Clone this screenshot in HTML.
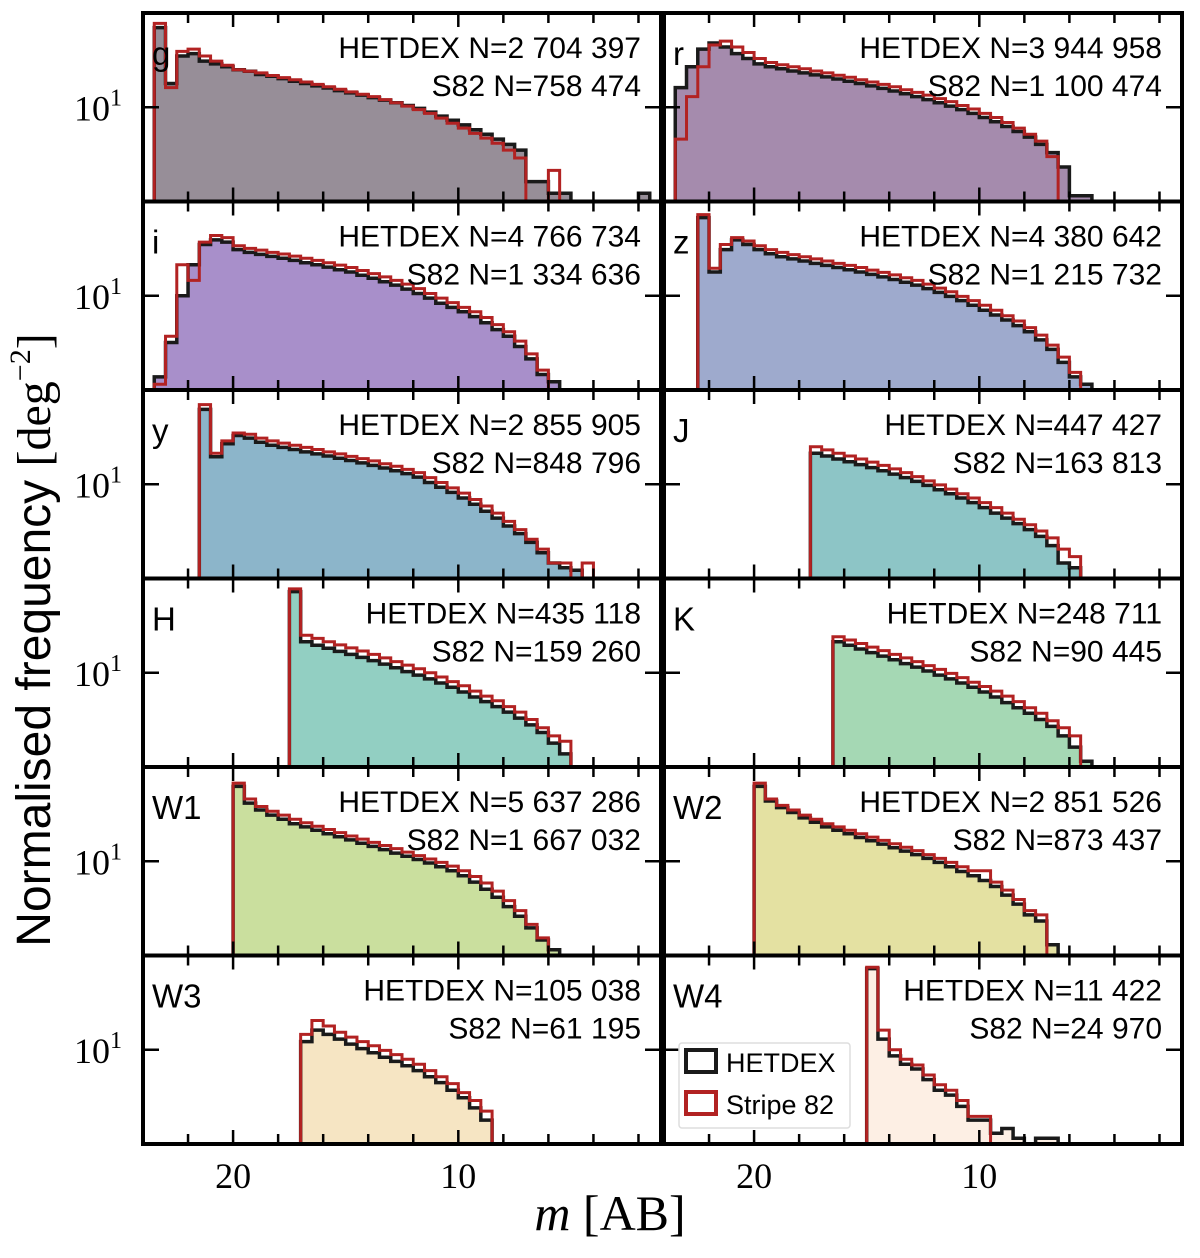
<!DOCTYPE html>
<html><head><meta charset="utf-8"><style>
body{margin:0;background:#fff}
svg text{font-family:"Liberation Sans",sans-serif}
.serif{font-family:"Liberation Serif",serif}
</style></head><body>
<svg id="fig" width="1200" height="1253" viewBox="0 0 1200 1253" xmlns="http://www.w3.org/2000/svg"></svg>
<script>
const bands = ["g","r","i","z","y","J","H","K","W1","W2","W3","W4"];
const hetdexN = ["2 704 397","3 944 958","4 766 734","4 380 642","2 855 905","447 427","435 118","248 711","5 637 286","2 851 526","105 038","11 422"];
const s82N = ["758 474","1 100 474","1 334 636","1 215 732","848 796","163 813","159 260","90 445","1 667 032","873 437","61 195","24 970"];
const startMag = [23.5,23.5,23.5,22.5,21.5,17.5,17.5,16.5,20,20,17,15];
const binWidth = 0.5;
const hetdexVals = [
[39,15,24,25,22,21,20,19,18.5,17.5,17,16.3,15.6,15,14.4,13.9,13.3,12.8,12.3,11.8,11.3,10.8,10.3,9.8,9.2,8.6,8,7.4,6.8,6.3,5.8,5.3,4.8,2.8,2.8,2.3,2.3,0,0,0,0,0,0,2.3],
[14,20,27,30,28,25,23,21,20,19.3,18.6,18,17.4,16.8,16.2,15.6,15,14.4,13.8,13.2,12.6,12,11.4,10.8,10.2,9.6,9,8.4,7.8,7.2,6.6,6,5.3,4.6,3.6,2.2,2.2],
[2.5,4.5,10,17,24,26,25,22,21,20.3,19.6,19,18.3,17.6,17,16.3,15.6,15,14.2,13.5,12.7,12,11.2,10.4,9.6,8.8,8.2,7.6,7,6.3,5.6,5,4.2,3.4,2.6,2.3],
[38,15,22,26,24,22,20.5,19.5,18.8,18.1,17.4,16.8,16.2,15.6,15,14.4,13.8,13.2,12.6,12,11.3,10.6,9.9,9.2,8.5,7.8,7.2,6.6,6,5.4,4.7,4,3.2,2.5,2.2],
[36,16,20,23,22,20.5,19.5,18.8,18.1,17.4,16.8,16.2,15.6,15,14.4,13.8,13.2,12.6,12,11.3,10.3,9.5,8.7,7.9,7.1,6.3,5.6,4.9,4.3,3.7,3.1,2.6,2.4,2.3],
[17,16.2,15.4,14.7,14,13.3,12.6,11.9,11.2,10.5,9.8,9.1,8.5,7.9,7.3,6.7,6.1,5.6,5.1,4.6,4.1,3.5,2.6,2.4],
[40,17,16,15.2,14.4,13.7,13,12.3,11.6,10.9,10.2,9.6,9,8.4,7.8,7.2,6.6,6.1,5.6,5.1,4.6,4.1,3.6,3,2.5],
[17,16,15,14.1,13.3,12.5,11.7,11,10.3,9.6,9,8.4,7.8,7.2,6.6,6,5.5,5,4.5,4,3.4,2.8,2.2],
[36,27,24,22,20.5,19,18,17,16,15.2,14.4,13.6,12.9,12.2,11.5,10.9,10.3,9.7,9.1,8.5,7.8,7,6.2,5.4,4.6,3.9,3.2,2.6,2.2],
[36,28,25,23,21,19.5,18,17,16,15,14.2,13.4,12.6,11.9,11.2,10.5,9.8,9.1,8.4,7.8,7.2,6.5,5.6,4.8,4,3.6,2.4],
[11.5,14,13,12,11,10.2,9.5,8.8,8.2,7.6,7,6.3,5.7,5,4.4,3.7,3],
[40,12,9,7.8,7.2,6,5,4.6,3.8,3,3,2.4,2.6,2.2,2,2.2,2.2]
];
const s82Vals = [
[42,14,26,27,24,22,20.5,19,18.5,18,17.2,16.6,16,15.4,14.8,14.2,13.6,13,12.5,12,11.4,10.8,10.2,9.6,9,8.3,7.6,7,6.4,5.9,5.4,4.8,4.2,0,0,3.4],
[5.8,12,20,29,31,28,25.5,23,21.5,20.7,20,19.3,18.6,18,17.3,16.7,16,15.4,14.8,14.2,13.5,12.9,12.3,11.6,11,10.3,9.7,9,8.4,7.7,7,6.3,5.6,4.3],
[2.2,5,17,13,25,28,27,23.5,22.5,21.8,21,20.4,19.7,19,18.3,17.6,16.9,16.2,15.4,14.6,13.8,13,12.2,11.3,10.4,9.6,8.9,8.2,7.6,6.9,6.1,5.4,4.6,3.7,2.8],
[40,16,24,27,25.5,23.5,22,21,20.2,19.5,18.8,18.1,17.4,16.8,16.2,15.5,14.9,14.3,13.6,13,12.2,11.4,10.7,9.9,9.2,8.5,7.8,7.1,6.5,5.8,5.1,4.3,3.5,2.7],
[39,17,21,24,23.5,22,21,20.2,19.5,18.8,18.1,17.4,16.8,16.1,15.5,14.9,14.2,13.6,12.9,12.2,11.2,10.3,9.4,8.6,7.7,6.9,6.1,5.3,4.6,3.9,3.3,2.6,2.6,0,2.6],
[19,18,17,16.2,15.4,14.6,13.8,13,12.2,11.4,10.6,9.9,9.2,8.5,7.9,7.3,6.7,6.1,5.5,5,4.5,4,3.3,2.9],
[42,19,18,17,16.1,15.3,14.5,13.7,12.9,12.1,11.4,10.7,10,9.3,8.6,8,7.3,6.7,6.2,5.6,5.1,4.5,3.9,3.4,3.1],
[18.5,17.5,16.5,15.5,14.6,13.7,12.9,12.1,11.3,10.6,9.9,9.2,8.5,7.9,7.3,6.7,6.1,5.5,5,4.4,3.9,3.4],
[38,29,25.5,23.5,22,20.5,19.3,18.2,17.2,16.3,15.4,14.6,13.8,13.1,12.4,11.7,11,10.4,9.8,9.2,8.5,7.7,6.9,6,5.1,4.3,3.4,2.7],
[38,29,26,24,22,20.5,19,18,17,16,15.1,14.3,13.5,12.7,12,11.2,10.5,9.8,9.1,8.5,8.5,7,6.1,5.2,4.3,4],
[13,16.5,15,13.5,12.4,11.5,10.7,9.9,9.2,8.5,7.8,7,6.3,5.6,4.8,4.2,3.5],
[41,14,10,8.5,7.7,6.5,5.5,5,4.2,3.2,3.2]
];
const fills = ["#978e98","#a58bad","#a88fca","#9eaacd","#8cb5ca","#8dc5c6","#92cfc2","#a5d8b4","#cadf9e","#e4e1a2","#f6e5c3","#fdefe4"];
const xTickLabels = [20,10];
const yTickVal = 10;

const NS="http://www.w3.org/2000/svg";
const svg=document.getElementById('fig');
const colX=[143,664], W=518, top0=13, H=188.5;
const mMax=24, mMin=1, logTop=1.7, logBot=0.3;
function xS(m,c){return colX[c]+(mMax-m)*W/(mMax-mMin);}
function yS(v,r){const l=Math.log10(Math.max(v,Math.pow(10,logBot)));return top0+r*H+(logTop-Math.min(l,logTop))/(logTop-logBot)*H;}
function mk(tag,attrs,parent){const e=document.createElementNS(NS,tag);for(const k in attrs)e.setAttribute(k,attrs[k]);(parent||svg).appendChild(e);return e;}
function histPath(vals,s,c,r,closed){
  const yb=top0+(r+1)*H;let d=`M${xS(s,c)},${yb}`;
  vals.forEach((v,k)=>{const m0=s-binWidth*k,m1=m0-binWidth;const y=yS(v,r);d+=` L${xS(m0,c)},${y} L${xS(m1,c)},${y}`;});
  d+=` L${xS(s-binWidth*vals.length,c)},${yb}`;if(closed)d+=' Z';return d;
}
bands.forEach((b,i)=>{
  const c=i%2,r=Math.floor(i/2);const x0=colX[c],y0=top0+r*H;
  const g=mk('g',{});
  
  
  const clip=mk('clipPath',{id:'cp'+i},g);mk('rect',{x:x0,y:y0,width:W,height:H},clip);
  const hg=mk('g',{'clip-path':`url(#cp${i})`},g);
  const f=mk('path',{d:histPath(hetdexVals[i],startMag[i],c,r,true),fill:fills[i],stroke:'none'},hg);
  
  
  const hb=mk('path',{d:histPath(hetdexVals[i],startMag[i],c,r,false),fill:'none',stroke:'#1a1a1a','stroke-width':3.5},hg);
  
  
  const hr=mk('path',{d:histPath(s82Vals[i],startMag[i],c,r,false),fill:'none',stroke:'#b22222','stroke-width':3},hg);
  
  
  for(let m=22;m>=2;m-=2){const x=xS(m,c);const L=(m%10===0)?14:10;
    mk('line',{x1:x,y1:y0,x2:x,y2:y0+L,stroke:'#000','stroke-width':2.5},g);
    mk('line',{x1:x,y1:y0+H,x2:x,y2:y0+H-L,stroke:'#000','stroke-width':2.5},g);}
  const yt=yS(yTickVal,r);
  mk('line',{x1:x0,y1:yt,x2:x0+16,y2:yt,stroke:'#000','stroke-width':2.5},g);
  mk('line',{x1:x0+W,y1:yt,x2:x0+W-16,y2:yt,stroke:'#000','stroke-width':2.5},g);
  mk('rect',{x:x0,y:y0,width:W,height:H,fill:'none',stroke:'#000','stroke-width':4},g);
  const bl=mk('text',{x:x0+9,y:y0+52,'font-size':33},g);bl.textContent=b;
  
  
  const t1=mk('text',{x:x0+W-20,y:y0+45,'font-size':30,'text-anchor':'end'},g);t1.textContent='HETDEX N='+hetdexN[i];
  
  
  const t2=mk('text',{x:x0+W-20,y:y0+83,'font-size':30,'text-anchor':'end'},g);t2.textContent='S82 N='+s82N[i];
  
  
  if(c===0){const yl=mk('text',{x:74,y:yt+13,'font-size':36,class:'serif'},g);yl.innerHTML='10<tspan font-size="24" dy="-15">1</tspan>';
    
    }
});
[0,1].forEach(c=>{xTickLabels.forEach(v=>{const t=mk('text',{x:xS(v,c),y:1188,'font-size':36,'text-anchor':'middle',class:'serif'});t.textContent=v;
  
  });});
const xt=mk('text',{x:610,y:1230,'font-size':50,'text-anchor':'middle',class:'serif'});
xt.innerHTML='<tspan font-style="italic">m</tspan> [AB]';


const yt=mk('text',{x:0,y:0,'font-size':48,'text-anchor':'middle',transform:'translate(50,640) rotate(-90)'});
yt.innerHTML='Normalised frequency <tspan font-family="Liberation Serif">[deg<tspan font-size="30" dy="-20">−2</tspan><tspan dy="20">]</tspan></tspan>';


const lg=mk('g',{});


mk('rect',{x:679,y:1043,width:171,height:85,rx:3,fill:'#fff',stroke:'#ddd','stroke-width':1.5},lg);
mk('rect',{x:686,y:1050,width:30,height:22,fill:'#fff',stroke:'#1a1a1a','stroke-width':4},lg);
mk('rect',{x:686,y:1092,width:30,height:22,fill:'#fff',stroke:'#b22222','stroke-width':4},lg);
const l1=mk('text',{x:726,y:1072,'font-size':27},lg);l1.textContent='HETDEX';


const l2=mk('text',{x:726,y:1114,'font-size':27},lg);l2.textContent='Stripe 82';


</script>
</body></html>
